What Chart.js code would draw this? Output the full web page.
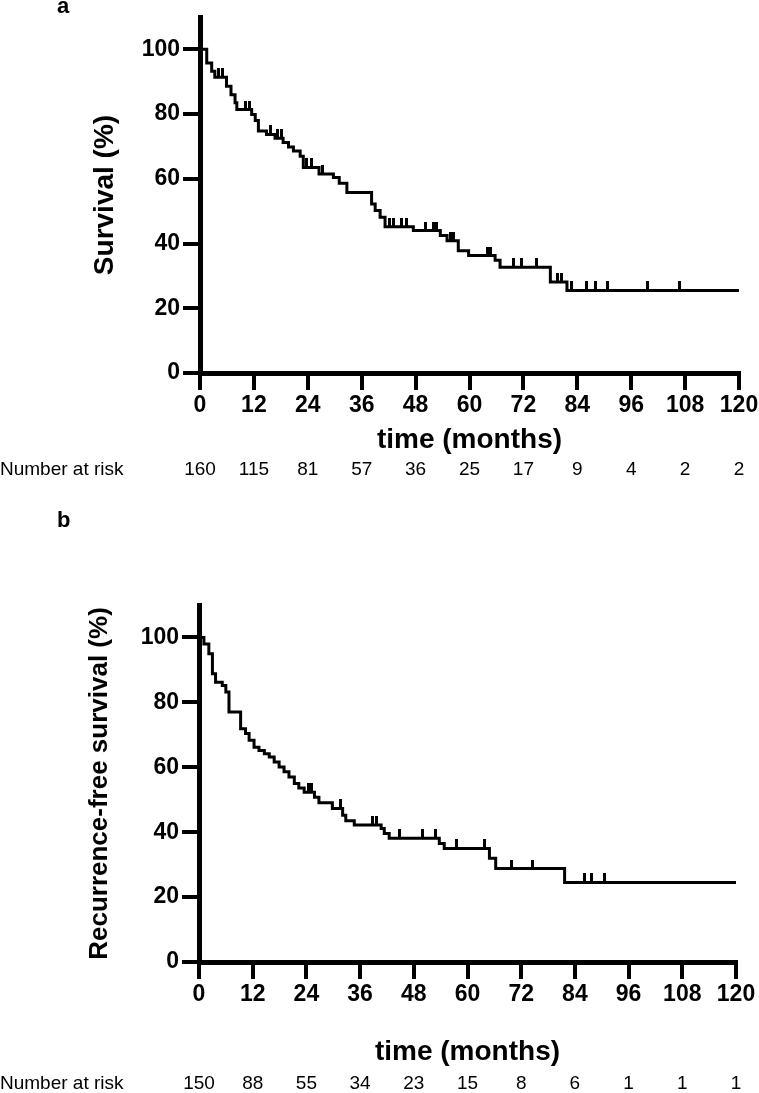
<!DOCTYPE html>
<html>
<head>
<meta charset="utf-8">
<script src="https://cdn.jsdelivr.net/npm/chart.js@4.4.1/dist/chart.umd.min.js"></script>
<style>
  body { margin: 0; background: #fff; width: 759px; height: 1093px; position: relative; overflow: hidden; font-family: 'Liberation Sans', Arial, sans-serif; }
  .panel { position: absolute; left: 0; width: 759px; }
  .letter { position: absolute; left: 57px; font-weight: bold; font-size: 22px; line-height: 22px; }
</style>
</head>
<body>
<div class="panel" style="top:0;height:492px"><canvas id="chartA"></canvas></div>
<div class="panel" style="top:510px;height:583px"><canvas id="chartB"></canvas></div>
<div class="letter" style="top:-5px">a</div>
<div class="letter" style="top:509px">b</div>
<script>
// x ticks (months) and y ticks (%)
const xTicks = [0, 12, 24, 36, 48, 60, 72, 84, 96, 108, 120];
const yTicks = [0, 20, 40, 60, 80, 100];

// a: overall survival, step times + value after each step
const osTime = [0, 1.5, 2.6, 3.3, 5.9, 6.9, 7.8, 8.2, 11.5, 12.3, 13, 14.8, 16.7, 18.5, 19.7, 20.8, 22.3, 23, 26.5, 29.7, 31, 32.7, 38.2, 39, 40.1, 41.2, 47.5, 53.5, 55, 57.5, 59.8, 65.7, 66.8, 78, 81.7, 120];
const osSurv = [100, 95.8, 93.2, 91.4, 88.6, 86, 83.5, 81.4, 79.9, 78, 74.8, 73.7, 72.5, 71.2, 69.8, 68.6, 67, 63.5, 61.5, 60.4, 58.6, 55.8, 52.2, 50.2, 48.1, 45.2, 44, 42.5, 40.9, 37.8, 36.3, 34.8, 32.7, 28.1, 25.5, 25.5];
const osCensor = [4.2, 5.0, 10.1, 11.0, 15.8, 17.3, 18.2, 23.8, 24.9, 27.2, 42.3, 43.1, 44.9, 46.0, 50.1, 52.0, 52.7, 55.7, 56.4, 63.9, 64.6, 69.8, 71.6, 75.0, 79.7, 80.5, 82.8, 86.0, 88.0, 90.8, 99.7, 106.7];
const osRisk = [160, 115, 81, 57, 36, 25, 17, 9, 4, 2, 2];

// b: recurrence-free survival
const rfsTime = [0, 1.1, 2.2, 3.0, 3.7, 5.2, 6.0, 6.7, 9.3, 10.4, 11.2, 12.3, 13.4, 14.6, 15.7, 16.8, 17.9, 19.0, 20.1, 21.3, 22.3, 23.5, 25.8, 26.8, 29.8, 32.1, 32.8, 34.7, 40.7, 41.4, 42.5, 53.7, 54.8, 64.9, 66.3, 81.7, 120];
const rfsSurv = [100, 98, 95, 88.8, 86.2, 85.2, 83.2, 77, 71.9, 70.4, 68.3, 66.2, 65.2, 64.2, 63.2, 61.6, 60.1, 58.6, 57, 55, 53.6, 52.3, 50.8, 49.1, 47.3, 45.2, 43.5, 42.2, 41.1, 39.6, 38.1, 36.5, 35, 32, 28.8, 24.5, 24.5];
const rfsCensor = [24.5, 25.2, 31.7, 38.7, 39.7, 44.8, 49.9, 52.8, 57.5, 63.8, 69.8, 74.6, 86.2, 87.7, 90.7];
const rfsRisk = [150, 88, 55, 34, 23, 15, 8, 6, 1, 1, 1];

const sans = "'Liberation Sans', Arial, sans-serif";

// value of the step curve at time t
function stepAt(times, surv, t) {
    let v = surv[0];
    for (let i = 0; i < times.length; i++) {
        if (times[i] <= t) v = surv[i];
    }
    return v;
}

// censor mark: short vertical tick sitting on top of the curve
const tickImg = document.createElement('canvas');
tickImg.width = 3;
tickImg.height = 18;
const tctx = tickImg.getContext('2d');
tctx.fillStyle = '#000';
tctx.fillRect(0, 0, 3, 9);

// "Number at risk" row under the x axis
const riskRow = {
    id: 'riskRow',
    afterDraw(chart, args, o) {
        const ctx = chart.ctx;
        const x = chart.scales.x;
        ctx.save();
        ctx.font = '19px ' + sans;
        ctx.fillStyle = '#000';
        ctx.textBaseline = 'middle';
        ctx.textAlign = 'left';
        ctx.fillText('Number at risk', 0, o.y);
        ctx.textAlign = 'center';
        o.values.forEach((v, i) => ctx.fillText(String(v), x.getPixelForValue(xTicks[i]), o.y));
        ctx.restore();
    }
};

function makeKM(id, times, surv, censor, risk, p) {
    const curve = times.map((t, i) => ({ x: t, y: surv[i] }));
    const marks = censor.map(t => ({ x: t, y: stepAt(times, surv, t) }));

    return new Chart(document.getElementById(id), {
        type: 'line',
        data: {
            datasets: [{
                data: curve,
                stepped: true,
                borderColor: '#000',
                borderWidth: 3,
                pointRadius: 0,
                fill: false
            }, {
                data: marks,
                showLine: false,
                pointStyle: tickImg,
                pointRadius: 3
            }]
        },
        options: {
            responsive: true,
            maintainAspectRatio: false,
            animation: false,
            layout: { padding: { top: p.top, bottom: p.bottom, left: 0, right: p.right } },
            plugins: {
                legend: { display: false },
                tooltip: { enabled: false },
                riskRow: { values: risk, y: p.riskY }
            },
            scales: {
                x: {
                    type: 'linear',
                    min: 0,
                    max: 120,
                    afterBuildTicks: s => { s.ticks = xTicks.map(v => ({ value: v })); },
                    afterFit: s => { s.height = p.xHeight; s.paddingLeft = 0; s.paddingRight = 0; },
                    grid: { drawOnChartArea: false, drawTicks: true, tickLength: 17, lineWidth: 4, color: '#000' },
                    border: { display: true, width: 5, color: '#000' },
                    ticks: { color: '#000', padding: 2, maxRotation: 0, autoSkip: false, font: { family: sans, size: 23, weight: 'bold' } },
                    title: { display: true, text: 'time (months)', color: '#000', padding: 0, font: { family: sans, size: 28, weight: 'bold' } }
                },
                y: {
                    min: 0,
                    max: 110,
                    afterBuildTicks: s => { s.ticks = yTicks.map(v => ({ value: v })); },
                    afterFit: s => { s.width = p.yWidth; s.paddingTop = 0; s.paddingBottom = 0; },
                    grid: { drawOnChartArea: false, drawTicks: true, tickLength: 17, lineWidth: 4, color: '#000' },
                    border: { display: true, width: 5, color: '#000' },
                    ticks: { color: '#000', padding: 3, font: { family: sans, size: 23, weight: 'bold' } },
                    title: { display: true, text: p.yTitle, color: '#000', padding: { top: p.yTitlePad, bottom: 0 }, font: { family: sans, size: p.yTitleSize, weight: 'bold' } }
                }
            }
        },
        plugins: [riskRow]
    });
}

makeKM('chartA', osTime, osSurv, osCensor, osRisk, {
    top: 17, bottom: 35, right: 20, xHeight: 84, yWidth: 200,
    yTitle: 'Survival (%)', yTitleSize: 28, yTitlePad: 88, riskY: 470
});

makeKM('chartB', rfsTime, rfsSurv, rfsCensor, rfsRisk, {
    top: 95, bottom: 24, right: 23, xHeight: 107, yWidth: 199,
    yTitle: 'Recurrence-free survival (%)', yTitleSize: 26, yTitlePad: 84, riskY: 574
});
</script>
</body>
</html>
